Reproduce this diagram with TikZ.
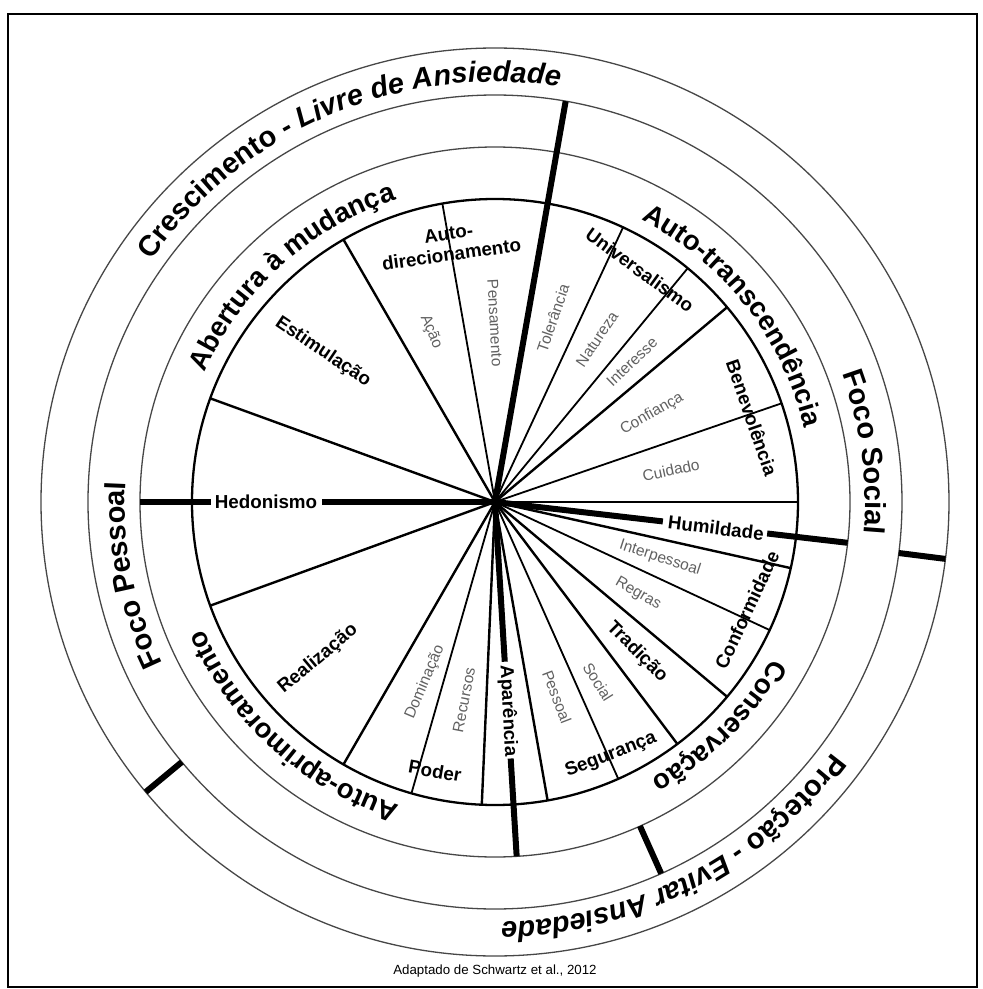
\documentclass[tikz,border=0pt]{standalone}
\usepackage{fontspec}
\setmainfont{Liberation Sans}
\usetikzlibrary{decorations.text}
\newcommand\ringfont{\fontsize{27.5}{30}\selectfont\bfseries}
\newcommand\focofont{\fontsize{29}{32}\selectfont\bfseries}
\newcommand\outerfont{\fontsize{29}{32}\selectfont\bfseries}
\newcommand\outerit{\fontsize{29}{32}\selectfont\bfseries\itshape}
\begin{document}
\begin{tikzpicture}[x=1pt,y=1pt,
  valbold/.style={font=\fontsize{18.8}{21}\selectfont\bfseries, inner sep=0pt, text=black},
  valsub/.style={font=\fontsize{15.5}{18}\selectfont, inner sep=0pt, text=black!62},
  spokemain/.style={line width=2.4pt},
  spokesub/.style={line width=1.8pt},
  thickline/.style={line width=6pt},
  thinring/.style={line width=1.3pt, draw=black!72},
  innerring/.style={line width=2.3pt},
  ringtext/.style={decorate, decoration={text along path, text align=center, text color=black}},
]
\useasboundingbox (-495,-487) rectangle (488,502);
\fill[white] (-495,-487) rectangle (488,502);
\draw[line width=1.4pt] (-487,-485) rectangle (482,488);
\coordinate (O) at (0,0);
% rings
\draw[thinring] (O) circle[radius=454];
\draw[thinring] (O) circle[radius=407];
\draw[thinring] (O) circle[radius=355];
% spokes
\foreach \a in {160,120,40,0,-12.6,-40,-53,-80,-92.5,240,200}
  \draw[spokemain] (O) -- (\a:303);
\foreach \a in {100,65,50.5,19,-25,-66,-106}
  \draw[spokesub] (O) -- (\a:303);
\draw[innerring] (O) circle[radius=303];
% thick separators
\draw[thickline] (O) -- (80:407);
\draw[thickline] (O) -- (180:173);
\draw[thickline] (180:284) -- (180:355);
\draw[thickline] (O) -- (-6.6:169);
\draw[thickline] (-6.6:274) -- (-6.6:355);
\draw[thickline] (O) -- (-86.5:160);
\draw[thickline] (-86.5:257) -- (-86.5:355);
\draw[thickline] (-7.2:407) -- (-7.2:454);
\draw[thickline] (219.7:407) -- (219.7:454);
\draw[thickline] (-65.9:355) -- (-65.9:407);
% value labels
\node[valbold] (hedon) at (-229,0) {Hedonismo};
\node[valbold, rotate=-34] (estim) at (-172,150) {Estimulação};
\node[valbold, rotate=8, align=center] (autodir) at (-45,258) {Auto-\\direcionamento};
\node[valbold, rotate=-36] (univ) at (145,232) {Universalismo};
\node[valbold, rotate=-71] (benev) at (257,84) {Benevolência};
\node[valbold, rotate=-7] (humil) at (221,-26) {Humildade};
\node[valbold, rotate=65] (conf) at (252,-108) {Conformidade};
\node[valbold, rotate=-45] (trad) at (142,-150) {Tradição};
\node[valbold, rotate=21] (segur) at (116,-253) {Segurança};
\node[valbold, rotate=-87] (apar) at (13,-209) {Aparência};
\node[valbold, rotate=-10] (poder) at (-60,-269) {Poder};
\node[valbold, rotate=40] (realiz) at (-177,-157) {Realização};
% sub-value labels
\node[valsub, rotate=-68] (acao) at (-64,170) {Ação};
\node[valsub, rotate=-87] (pens) at (0,179) {Pensamento};
\node[valsub, rotate=71] (toler) at (58,184) {Tolerância};
\node[valsub, rotate=56] (natur) at (102,163) {Natureza};
\node[valsub, rotate=44] (inter) at (137,140) {Interesse};
\node[valsub, rotate=30] (confi) at (157,88) {Confiança};
\node[valsub, rotate=12] (cuid) at (176,32) {Cuidado};
\node[valsub, rotate=-18] (interp) at (165,-56) {Interpessoal};
\node[valsub, rotate=-30] (regras) at (143,-92) {Regras};
\node[valsub, rotate=-58] (social) at (103,-180) {Social};
\node[valsub, rotate=-69] (pessoal) at (62,-195) {Pessoal};
\node[valsub, rotate=79] (recur) at (-31,-198) {Recursos};
\node[valsub, rotate=67] (domin) at (-70,-180) {Dominação};
% ring 1 labels
\path[ringtext, decoration={text={|\ringfont|Abertura à mudança}}]
  (192:318) arc[start angle=192, end angle=72, radius=318];
\path[ringtext, decoration={text={|\ringfont|Auto-transcendência}}]
  (98:318) arc[start angle=98, end angle=-22, radius=318];
\path[ringtext, decoration={text={|\ringfont|Conservação}}]
  (15:318) arc[start angle=15, end angle=-105, radius=318];
\path[ringtext, decoration={text={|\ringfont|Auto-aprimoramento}}]
  (288:318) arc[start angle=288, end angle=168, radius=318];
% ring 2 labels
\path[ringtext, decoration={text={|\focofont|Foco Social}}]
  (67.7:370) arc[start angle=67.7, end angle=-52.3, radius=370];
\path[ringtext, decoration={text={|\focofont|Foco Pessoal}}]
  (251.4:370) arc[start angle=251.4, end angle=131.4, radius=370];
% ring 3 labels
\path[ringtext, decoration={text={|\outerfont|Crescimento - |\outerit|Livre de Ansiedade}}]
  (203:420) arc[start angle=203, end angle=23, radius=420];
\path[ringtext, decoration={text={|\outerfont|Proteção - |\outerit|Evitar Ansiedade}}]
  (27.1:420) arc[start angle=27.1, end angle=-152.9, radius=420];
% caption
\node[font=\fontsize{13.3}{16}\selectfont, inner sep=0pt] (cap) at (0,-469) {Adaptado de Schwartz et al., 2012};
\end{tikzpicture}
\end{document}
